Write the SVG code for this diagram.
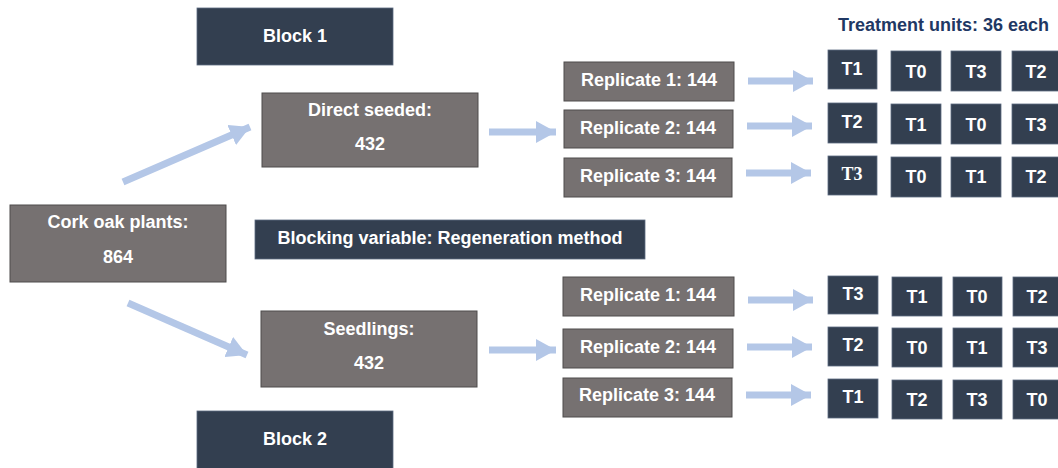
<svg xmlns="http://www.w3.org/2000/svg" width="1058" height="468" viewBox="0 0 1058 468">
<style>
text{font-family:"Liberation Sans",Arial,sans-serif;font-weight:bold;font-size:18px;fill:#ffffff;text-anchor:middle}
.g{fill:#767171;stroke:#4f4c4c;stroke-width:1}
.n{fill:#333f50;stroke:#5d6b80;stroke-width:0.8}
.a{stroke:#b4c7e7;stroke-width:7;fill:none;marker-end:url(#ah)}
.title{fill:#1f3864;text-anchor:start}
</style>
<defs>
<marker id="ah" markerUnits="userSpaceOnUse" markerWidth="22" markerHeight="22" refX="20" refY="11" orient="auto">
<path d="M0,0 L20,11 L0,22 z" fill="#b4c7e7"/>
</marker>
</defs>
<rect width="1058" height="468" fill="#ffffff"/>
<g id="connectors">
<line class="a" x1="123" y1="182" x2="250" y2="127"/>
<line class="a" x1="128" y1="303" x2="247" y2="355"/>
<line class="a" x1="489" y1="132" x2="556" y2="132"/>
<line class="a" x1="489" y1="350" x2="556" y2="350"/>
<line class="a" x1="748" y1="81" x2="813" y2="81"/>
<line class="a" x1="747" y1="126" x2="812" y2="126"/>
<line class="a" x1="746" y1="173" x2="811" y2="173"/>
<line class="a" x1="748" y1="300" x2="813" y2="300"/>
<line class="a" x1="747" y1="347" x2="812" y2="347"/>
<line class="a" x1="746" y1="395" x2="811" y2="395"/>
</g>
<g id="cork"><rect class="g" x="10" y="205" width="216" height="77"/><text x="118" y="228">Cork oak plants:</text><text x="118" y="263">864</text></g>
<g id="block1"><rect class="n" x="197" y="8" width="196" height="57"/><text x="295" y="42">Block 1</text></g>
<g id="block2"><rect class="n" x="197" y="411" width="196" height="62"/><text x="295" y="445">Block 2</text></g>
<g id="direct"><rect class="g" x="262" y="93" width="216" height="74"/><text x="370" y="116">Direct seeded:</text><text x="370" y="150">432</text></g>
<g id="seedlings"><rect class="g" x="261" y="311" width="216" height="76"/><text x="369" y="335">Seedlings:</text><text x="369" y="369">432</text></g>
<g id="blocking"><rect class="n" x="255" y="220" width="390" height="39"/><text x="450" y="244">Blocking variable: Regeneration method</text></g>
<g id="title"><text class="title" x="838" y="31">Treatment units: 36 each</text></g>
<g id="r1a"><rect class="g" x="564" y="62" width="170" height="39"/><text x="649" y="86">Replicate 1: 144</text></g>
<g id="r2a"><rect class="g" x="564" y="110" width="169" height="38"/><text x="648" y="134">Replicate 2: 144</text></g>
<g id="r3a"><rect class="g" x="564" y="158" width="168" height="39"/><text x="648" y="182">Replicate 3: 144</text></g>
<g id="r1b"><rect class="g" x="563" y="277" width="171" height="39"/><text x="648" y="301">Replicate 1: 144</text></g>
<g id="r2b"><rect class="g" x="563" y="329" width="170" height="39"/><text x="648" y="353">Replicate 2: 144</text></g>
<g id="r3b"><rect class="g" x="563" y="378" width="169" height="39"/><text x="647" y="401">Replicate 3: 144</text></g>
<g id="ta11"><rect class="n" x="828" y="50" width="49" height="39"/><text x="852" y="75">T1</text></g>
<g id="ta12"><rect class="n" x="891" y="51" width="50" height="40"/><text x="916" y="78">T0</text></g>
<g id="ta13"><rect class="n" x="951" y="51" width="50" height="40"/><text x="976" y="78">T3</text></g>
<g id="ta14"><rect class="n" x="1012" y="51" width="49" height="40"/><text x="1036" y="78">T2</text></g>
<g id="ta21"><rect class="n" x="828" y="103" width="49" height="40"/><text x="852" y="128">T2</text></g>
<g id="ta22"><rect class="n" x="891" y="104" width="50" height="40"/><text x="916" y="131">T1</text></g>
<g id="ta23"><rect class="n" x="951" y="104" width="50" height="40"/><text x="976" y="131">T0</text></g>
<g id="ta24"><rect class="n" x="1012" y="104" width="49" height="40"/><text x="1036" y="131">T3</text></g>
<g id="ta31"><rect class="n" x="828" y="156" width="49" height="39"/><text x="852" y="180" style="font-family:'Liberation Serif','Times New Roman',serif">T3</text></g>
<g id="ta32"><rect class="n" x="891" y="157" width="50" height="40"/><text x="916" y="183">T0</text></g>
<g id="ta33"><rect class="n" x="951" y="157" width="50" height="40"/><text x="976" y="183">T1</text></g>
<g id="ta34"><rect class="n" x="1012" y="157" width="49" height="40"/><text x="1036" y="183">T2</text></g>
<g id="tb11"><rect class="n" x="828" y="276" width="50" height="38"/><text x="853" y="300">T3</text></g>
<g id="tb12"><rect class="n" x="892" y="277" width="50" height="39"/><text x="917" y="303">T1</text></g>
<g id="tb13"><rect class="n" x="953" y="277" width="49" height="39"/><text x="977" y="303">T0</text></g>
<g id="tb14"><rect class="n" x="1013" y="277" width="49" height="39"/><text x="1037" y="303">T2</text></g>
<g id="tb21"><rect class="n" x="828" y="327" width="50" height="39"/><text x="853" y="351">T2</text></g>
<g id="tb22"><rect class="n" x="892" y="328" width="50" height="39"/><text x="917" y="354">T0</text></g>
<g id="tb23"><rect class="n" x="953" y="328" width="49" height="39"/><text x="977" y="354">T1</text></g>
<g id="tb24"><rect class="n" x="1013" y="328" width="49" height="39"/><text x="1037" y="354">T3</text></g>
<g id="tb31"><rect class="n" x="828" y="379" width="50" height="39"/><text x="853" y="403">T1</text></g>
<g id="tb32"><rect class="n" x="892" y="380" width="50" height="39"/><text x="917" y="406">T2</text></g>
<g id="tb33"><rect class="n" x="953" y="380" width="49" height="39"/><text x="977" y="406">T3</text></g>
<g id="tb34"><rect class="n" x="1013" y="380" width="49" height="39"/><text x="1037" y="406">T0</text></g>
</svg>
